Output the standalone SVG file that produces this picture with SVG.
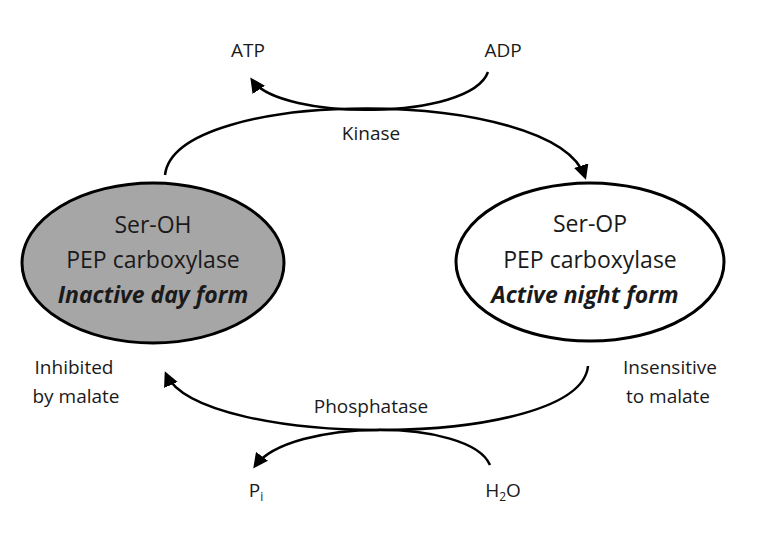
<svg xmlns="http://www.w3.org/2000/svg" width="760" height="534" viewBox="0 0 760 534">
<style>
text{font-family:"Open Sans","Liberation Sans",sans-serif;fill:#1a1a1a;text-anchor:middle}
.n{font-size:23px}.b{font-size:23px;font-weight:bold;font-style:italic}.s{font-size:19px}
.c{fill:none;stroke:#000;stroke-width:2.5}
</style>
<defs><marker id="a" viewBox="0 0 10 10" refX="8" refY="5" markerWidth="6" markerHeight="6" orient="auto"><path d="M0,0L10,5L0,10z" fill="#000"/></marker></defs>
<rect width="760" height="534" fill="#fff"/>
<g id="connectors">
<path class="c" d="M165,175 C175,86 555,86 585,177" marker-end="url(#a)"/>
<path class="c" d="M488,72 C470,121 280,121 252,80" marker-end="url(#a)"/>
<path class="c" d="M588,366 C580,450 200,450 166,374" marker-end="url(#a)"/>
<path class="c" d="M490,465 C470,418 290,418 255,466" marker-end="url(#a)"/>
</g>
<g id="left"><ellipse cx="153" cy="263" rx="131" ry="80" fill="#a6a6a6" stroke="#000" stroke-width="3"/>
<text x="153" y="233" class="n">Ser-OH</text><text x="153" y="268" class="n">PEP carboxylase</text><text x="153" y="303" class="b">Inactive day form</text></g>
<g id="right"><ellipse cx="590" cy="262" rx="134" ry="79" fill="#fff" stroke="#000" stroke-width="3"/>
<text x="590" y="232" class="n">Ser-OP</text><text x="590" y="268" class="n">PEP carboxylase</text><text x="585" y="303" class="b">Active night form</text></g>
<g id="labels">
<text x="248" y="57" class="s">ATP</text><text x="503" y="57" class="s">ADP</text>
<text x="371" y="140" class="s">Kinase</text>
<text x="74" y="374" class="s">Inhibited</text><text x="76" y="403" class="s">by malate</text>
<text x="670" y="374" class="s">Insensitive</text><text x="668" y="403" class="s">to malate</text>
<text x="371" y="413" class="s">Phosphatase</text>
<text x="256" y="497" class="s">P<tspan font-size="12" dy="4">i</tspan></text>
<text x="503" y="497" class="s">H<tspan font-size="12" dy="4">2</tspan><tspan dy="-4">O</tspan></text>
</g>
</svg>
